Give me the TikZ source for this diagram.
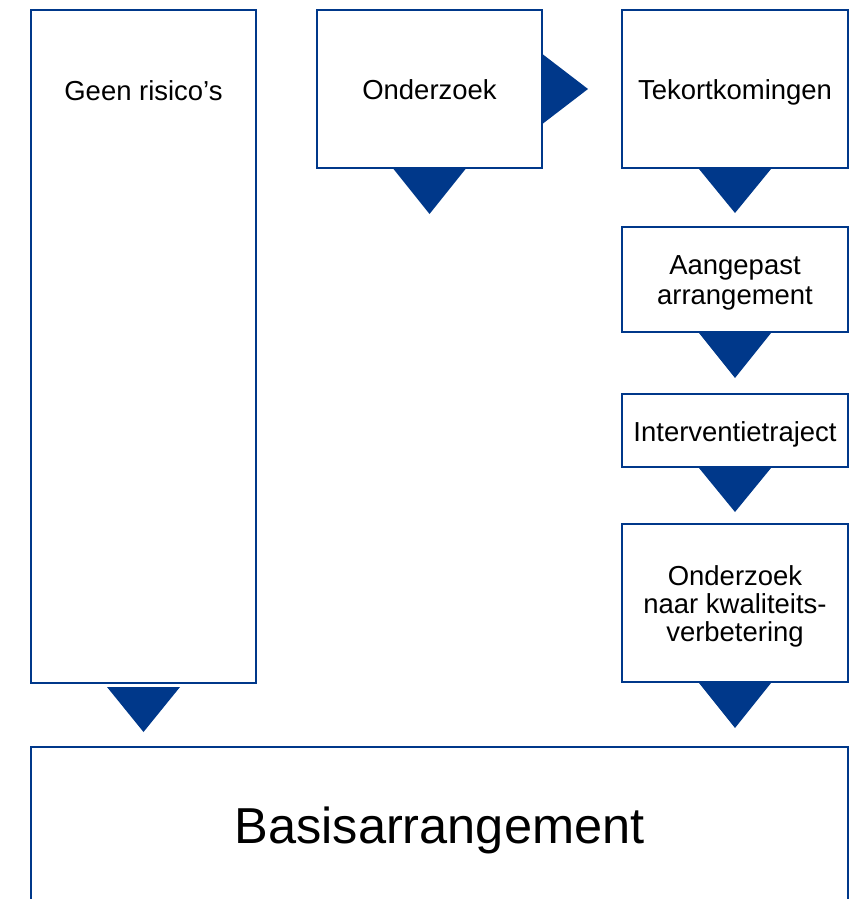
\documentclass[tikz,border=0pt]{standalone}
\usepackage{fontspec}
\setmainfont{Liberation Sans}
\usetikzlibrary{calc}
\definecolor{nblue}{RGB}{0,56,138}
\tikzset{
  box/.style={draw=nblue, line width=1.5pt, fill=white, rectangle, inner sep=0pt,
    align=center, text height=17.5pt, text depth=1.7pt,
    font=\fontsize{20.6pt}{21pt}\selectfont},
  txt/.style={inner sep=0pt, align=center, text height=17.5pt, text depth=1.7pt,
    font=\fontsize{20.6pt}{21pt}\selectfont},
  mtxt/.style={inner sep=0pt, align=center, font=\fontsize{20.6pt}{21pt}\selectfont},
  tri/.style={fill=nblue, draw=none}
}
\begin{document}
\begin{tikzpicture}[x=0.75pt, y=-0.75pt]
\useasboundingbox (0,0) rectangle (852,899);
\clip (0,0) rectangle (852,899);
\node[box, minimum width=168.75pt, minimum height=504.75pt] (geen) at (143.5,346.5) {};
\node[txt] (geentxt) at (143.5,90) {Geen risico’s};
\node[box, minimum width=168.75pt, minimum height=118.5pt] (ond) at (429.5,89) {Onderzoek};
\node[box, minimum width=169.5pt, minimum height=118.5pt] (tek) at (735,89) {Tekortkomingen};
\node[box, minimum width=169.5pt, minimum height=78.75pt] (aang) at (735,279.5) {};
\node[mtxt, font=\fontsize{20.6pt}{22pt}\selectfont] (aangtxt) at (735,283) {Aangepast\\arrangement};
\node[box, minimum width=169.5pt, minimum height=54.75pt] (int) at (735,430.5) {Interventietraject};
\node[box, minimum width=169.5pt, minimum height=118.5pt] (kwal) at (735,603) {};
\node[mtxt] (kwaltxt) at (735,606) {Onderzoek\\naar kwaliteits-\\verbetering};
\node[box, minimum width=612.75pt, minimum height=118.5pt, text height=27pt, text depth=1.5pt,
  font=\fontsize{37.9pt}{40pt}\selectfont] (basis) at (439.5,826) {Basisarrangement};
% connectors (triangles)
\fill[tri] ($(geen.south)+(-36.5,3)$) -- ($(geen.south)+(36.5,3)$) -- ($(geen.south)+(0,48)$) -- cycle;
\fill[tri] ($(ond.south)+(-36,0)$) -- ($(ond.south)+(36,0)$) -- ($(ond.south)+(0,45)$) -- cycle;
\fill[tri] ($(ond.east)+(0,-34.5)$) -- ($(ond.east)+(45,0)$) -- ($(ond.east)+(0,34.5)$) -- cycle;
\fill[tri] ($(tek.south)+(-36,0)$) -- ($(tek.south)+(36,0)$) -- ($(tek.south)+(0,44)$) -- cycle;
\fill[tri] ($(aang.south)+(-36,0)$) -- ($(aang.south)+(36,0)$) -- ($(aang.south)+(0,45)$) -- cycle;
\fill[tri] ($(int.south)+(-36,0)$) -- ($(int.south)+(36,0)$) -- ($(int.south)+(0,44)$) -- cycle;
\fill[tri] ($(kwal.south)+(-36,0)$) -- ($(kwal.south)+(36,0)$) -- ($(kwal.south)+(0,45)$) -- cycle;
\end{tikzpicture}
\end{document}
